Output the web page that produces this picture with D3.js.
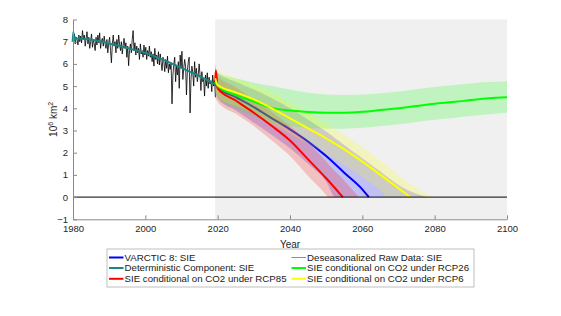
<!DOCTYPE html>
<html>
<head>
<meta charset="utf-8">
<script src="https://cdn.jsdelivr.net/npm/d3@7"></script>
<style>
  body { margin: 0; background: #fff; }
  svg { font-family: "Liberation Sans", Arial, Helvetica, sans-serif; }
</style>
</head>
<body>
<svg id="chart"></svg>
<script>
// ---- data ----
const yearTicks = [1980, 2000, 2020, 2040, 2060, 2080, 2100]
const valueTicks = [-1, 0, 1, 2, 3, 4, 5, 6, 7, 8]

// deseasonalized raw data, quarterly from 1980
const rawValues = [
  7.0, 7.35, 6.9, 7.2,   7.1, 6.85, 7.3, 7.0,   7.25, 6.95, 7.5, 7.1,   7.3, 6.8, 7.15, 7.45,
  6.9, 7.2, 6.7, 7.0,    7.35, 6.75, 7.1, 6.9,  6.6, 7.2, 6.85, 7.3,    6.95, 7.4, 6.7, 7.05,
  7.15, 6.8, 7.25, 6.9,  6.7, 7.1, 6.5, 6.95,   7.2, 6.6, 6.05, 6.9,    7.3, 6.8, 7.0, 6.5,
  7.1, 6.7, 7.3, 6.9,    6.6, 7.0, 6.45, 6.85,  7.15, 6.7, 6.95, 6.3,   6.8, 5.92, 6.6, 6.9,
  6.5, 7.1, 7.5, 6.6,    6.95, 6.4, 6.8, 6.5,   6.7, 6.2, 6.9, 6.45,    6.6, 6.3, 6.85, 6.4,
  6.75, 6.2, 6.6, 6.35,  6.8, 6.3, 6.55, 6.1,   6.45, 5.9, 6.7, 6.2,    6.4, 6.0, 6.55, 5.95,
  6.45, 6.05, 5.7, 6.3,  6.1, 5.65, 6.2, 5.8,   6.35, 5.6, 6.0, 5.75,   6.05, 4.2, 5.5, 6.0,
  6.3, 5.2, 5.9, 5.5,    6.1, 4.9, 6.4, 5.8,    6.57, 5.3, 5.8, 6.2,    5.9, 4.6, 5.7, 6.1,
  6.3, 3.79, 5.3, 5.9,   5.6, 5.0, 6.1, 5.4,    5.8, 5.2, 5.5, 6.0,     5.5, 4.8, 5.65, 5.2,
  5.3, 4.55, 5.5, 5.0,   5.6, 4.9, 5.4, 5.1,    5.25, 4.75, 5.5, 5.0,   5.35, 4.5
]

// deterministic component
const trendYears = [1979.9, 1980.1, 1980.3, 1980.6, 1981, 1983, 1985, 1987, 1990, 1993, 1995, 1998, 2000, 2003, 2005, 2008, 2010, 2013, 2015, 2017, 2019.3]
const trendValues = [7.0, 7.45, 7.05, 7.2, 7.15, 7.13, 7.1, 7.03, 6.92, 6.8, 6.72, 6.59, 6.5, 6.31, 6.18, 5.97, 5.82, 5.6, 5.45, 5.28, 5.08]

// VARCTIC 8
const blueYears = [2019.3, 2020, 2025, 2030, 2035, 2040, 2045, 2050, 2055, 2060, 2061.8]
const blueValues = [5.1, 4.95, 4.5, 4.05, 3.55, 3.05, 2.5, 1.85, 1.1, 0.35, 0]
const blueBandYears = [2019.3, 2020, 2025, 2030, 2035, 2040, 2045, 2050, 2052.5, 2055, 2060, 2065, 2070, 2075, 2078]
const blueLo = [4.75, 4.45, 3.9, 3.35, 2.8, 2.2, 1.5, 0.7, 0, 0, 0, 0, 0, 0, 0]
const blueHi = [5.95, 5.6, 5.2, 4.85, 4.45, 4.0, 3.5, 2.95, 2.65, 2.35, 1.75, 1.15, 0.55, 0.15, 0]

// RCP85
const redYears = [2019.3, 2019.5, 2020, 2025, 2030, 2035, 2040, 2045, 2050, 2054.6]
const redValues = [5.2, 5.7, 4.9, 4.35, 3.8, 3.2, 2.55, 1.7, 0.85, 0]
const redBandYears = [2019.3, 2020, 2025, 2030, 2035, 2040, 2045, 2050, 2050.5, 2055, 2059]
const redLo = [4.5, 4.3, 3.75, 3.2, 2.55, 1.85, 0.95, 0.1, 0, 0, 0]
const redHi = [5.95, 5.45, 4.95, 4.4, 3.85, 3.2, 2.45, 1.6, 1.5, 0.75, 0]

// RCP26
const greenYears = [2019.3, 2020, 2025, 2030, 2035, 2040, 2045, 2050, 2055, 2060, 2065, 2070, 2075, 2080, 2085, 2090, 2095, 2100]
const greenValues = [5.2, 5.0, 4.6, 4.3, 4.02, 3.9, 3.83, 3.8, 3.8, 3.84, 3.92, 4.0, 4.1, 4.2, 4.28, 4.37, 4.45, 4.5]
const greenLo = [4.7, 4.5, 4.0, 3.65, 3.35, 3.2, 3.12, 3.08, 3.08, 3.12, 3.2, 3.28, 3.38, 3.48, 3.56, 3.65, 3.73, 3.8]
const greenHi = [5.8, 5.6, 5.35, 5.15, 5.0, 4.85, 4.7, 4.62, 4.6, 4.62, 4.68, 4.76, 4.86, 4.96, 5.04, 5.12, 5.18, 5.22]

// RCP6
const yellowYears = [2019.3, 2020, 2025, 2030, 2035, 2040, 2045, 2050, 2055, 2060, 2065, 2070, 2073.2]
const yellowValues = [5.35, 5.05, 4.72, 4.4, 4.0, 3.55, 3.1, 2.65, 2.15, 1.6, 1.0, 0.4, 0]
const yellowBandYears = [2019.3, 2020, 2025, 2030, 2035, 2040, 2045, 2050, 2055, 2060, 2065, 2067, 2070, 2075, 2079.5]
const yellowLo = [4.75, 4.5, 4.1, 3.75, 3.3, 2.85, 2.4, 1.95, 1.45, 0.9, 0.3, 0, 0, 0, 0]
const yellowHi = [6.05, 5.7, 5.35, 5.05, 4.7, 4.25, 3.8, 3.3, 2.8, 2.25, 1.65, 1.4, 1.0, 0.4, 0]

const legendLeft = [
  { label: 'VARCTIC 8: SIE', color: '#0000ff', width: 2 },
  { label: 'Deterministic Component: SIE', color: '#1c8585', width: 2 },
  { label: 'SIE conditional on CO2 under RCP85', color: '#ff0000', width: 2 }
]
const legendRight = [
  { label: 'Deseasonalized Raw Data: SIE', color: '#707070', width: 0.8 },
  { label: 'SIE conditional on CO2 under RCP26', color: '#00ff00', width: 2 },
  { label: 'SIE conditional on CO2 under RCP6', color: '#ffff00', width: 2 }
]

// ---- setup ----
const width = 561
const height = 316
const svg = d3.select('#chart').attr('width', width).attr('height', height)

const x = d3.scaleLinear().domain([1980, 2100]).range([73, 507])
const y = d3.scaleLinear().domain([-1, 8]).range([219.3, 19.5])

const zip = (xs, ys) => xs.map((v, i) => [v, ys[i]])
const zip3 = (xs, lo, hi) => xs.map((v, i) => [v, lo[i], hi[i]])

const line = d3.line().x(d => x(d[0])).y(d => y(d[1])).curve(d3.curveMonotoneX)
const rawLine = d3.line().x(d => x(d[0])).y(d => y(d[1]))
const band = d3.area()
  .x(d => x(d[0]))
  .y0(d => y(d[1]))
  .y1(d => y(d[2]))
  .curve(d3.curveMonotoneX)

// forecast background
svg.append('rect')
  .attr('x', x(2019.3))
  .attr('y', y(8))
  .attr('width', x(2100) - x(2019.3))
  .attr('height', y(-1) - y(8))
  .attr('fill', '#f0f0f0')

const plot = svg.append('g')

// VARCTIC band + line
plot.append('path').attr('d', band(zip3(blueBandYears, blueLo, blueHi)))
  .attr('fill', '#0000ff').attr('fill-opacity', 0.2)
plot.append('path').attr('d', line(zip(blueYears, blueValues)))
  .attr('fill', 'none').attr('stroke', '#0000ff').attr('stroke-width', 2)

// raw data
const rawData = rawValues.map((v, i) => [1980.125 + i * 0.25, v])
plot.append('path').attr('d', rawLine(rawData))
  .attr('fill', 'none').attr('stroke', '#000').attr('stroke-width', 0.8)

// deterministic component
plot.append('path').attr('d', line(zip(trendYears, trendValues)))
  .attr('fill', 'none').attr('stroke', '#1c8585').attr('stroke-width', 2)

// scenario bands
plot.append('path').attr('d', band(zip3(redBandYears, redLo, redHi)))
  .attr('fill', '#ff0000').attr('fill-opacity', 0.2)
plot.append('path').attr('d', band(zip3(greenYears, greenLo, greenHi)))
  .attr('fill', '#00ff00').attr('fill-opacity', 0.2)
plot.append('path').attr('d', band(zip3(yellowBandYears, yellowLo, yellowHi)))
  .attr('fill', '#ffff00').attr('fill-opacity', 0.2)

// scenario lines
plot.append('path').attr('d', line(zip(redYears, redValues)))
  .attr('fill', 'none').attr('stroke', '#ff0000').attr('stroke-width', 2)
plot.append('path').attr('d', line(zip(greenYears, greenValues)))
  .attr('fill', 'none').attr('stroke', '#00ff00').attr('stroke-width', 2)
plot.append('path').attr('d', line(zip(yellowYears, yellowValues)))
  .attr('fill', 'none').attr('stroke', '#ffff00').attr('stroke-width', 2)

// zero line
svg.append('line')
  .attr('x1', x(1980)).attr('x2', x(2100))
  .attr('y1', y(0)).attr('y2', y(0))
  .attr('stroke', '#000').attr('stroke-width', 1)

// axes
const xAxis = svg.append('g')
  .attr('transform', `translate(0,${y(-1)})`)
  .call(d3.axisBottom(x).tickValues(yearTicks).tickFormat(d3.format('d'))
    .tickSizeInner(-4).tickSizeOuter(0).tickPadding(5.7))
const yAxis = svg.append('g')
  .attr('transform', `translate(${x(1980)},0)`)
  .call(d3.axisLeft(y).tickValues(valueTicks)
    .tickSizeInner(-4).tickSizeOuter(0).tickPadding(5))

;[xAxis, yAxis].forEach(a => {
  a.select('.domain').attr('stroke', '#8a8a8a')
  a.selectAll('.tick line').attr('stroke', '#8a8a8a')
  a.selectAll('.tick text').attr('fill', '#262626').attr('font-size', '9.5px')
    .attr('font-family', '"Liberation Sans", Arial, sans-serif')
})

// axis labels
svg.append('text')
  .attr('x', (x(1980) + x(2100)) / 2)
  .attr('y', 248)
  .attr('text-anchor', 'middle')
  .attr('font-size', '10px')
  .attr('fill', '#262626')
  .text('Year')

const yLabel = svg.append('text')
  .attr('transform', `translate(57,${(y(8) + y(-1)) / 2}) rotate(-90)`)
  .attr('text-anchor', 'middle')
  .attr('font-size', '10px')
  .attr('fill', '#262626')
yLabel.append('tspan').text('10')
yLabel.append('tspan').attr('dy', -4).attr('font-size', '7px').text('6')
yLabel.append('tspan').attr('dy', 4).text(' km')
yLabel.append('tspan').attr('dy', -4).attr('font-size', '7px').text('2')

// legend
const legend = svg.append('g')
legend.append('rect')
  .attr('x', 107).attr('y', 249)
  .attr('width', 367).attr('height', 38)
  .attr('fill', '#fff')
  .attr('stroke', '#b0b0b0')
  .attr('stroke-width', 0.8)

const rowY = [257.5, 268, 278.8]
const drawColumn = (items, x0) => {
  items.forEach((d, i) => {
    legend.append('line')
      .attr('x1', x0).attr('x2', x0 + 14.5)
      .attr('y1', rowY[i]).attr('y2', rowY[i])
      .attr('stroke', d.color).attr('stroke-width', d.width)
    legend.append('text')
      .attr('x', x0 + 15.5).attr('y', rowY[i])
      .attr('dy', '0.35em')
      .attr('font-size', '9.7px')
      .attr('fill', '#1a1a1a')
      .text(d.label)
  })
}
drawColumn(legendLeft, 109)
drawColumn(legendRight, 291.5)
</script>
</body>
</html>
